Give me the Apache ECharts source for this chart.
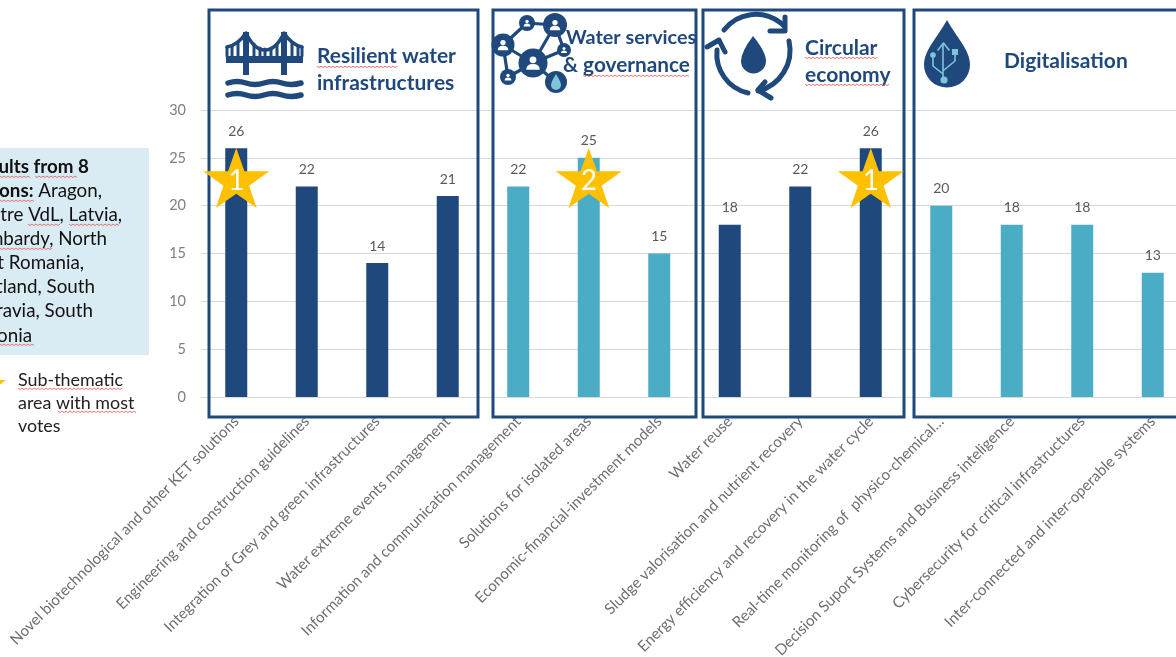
<!DOCTYPE html>
<html>
<head>
<meta charset="utf-8">
<style>
html, body { margin: 0; padding: 0; background: #fff; overflow: hidden; }
#main { width: 1176px; height: 657px; }
</style>
<script src="https://cdn.jsdelivr.net/npm/echarts@6/dist/echarts.min.js"></script>
</head>
<body>
<div id="main"></div>
<script>
const categories = [
  'Novel biotechnological and other KET solutions',
  'Engineering and construction guidelines',
  'Integration of Grey and green infrastructures',
  'Water extreme events management',
  'Information and communication management',
  'Solutions for isolated areas',
  'Economic-financial-investment models',
  'Water reuse',
  'Sludge valorisation and nutrient recovery',
  'Energy efficiency and recovery in the water cycle',
  'Real-time monitoring of  physico-chemical…',
  'Decision Suport Systems and Business inteligence',
  'Cybersecurity for critical infrastructures',
  'Inter-connected and inter-operable systems'
]
const votes = [26, 22, 14, 21, 22, 25, 15, 18, 22, 26, 20, 18, 18, 13]
const barColors = ['#1F497D', '#1F497D', '#1F497D', '#1F497D', '#4BACC6', '#4BACC6', '#4BACC6',
  '#1F497D', '#1F497D', '#1F497D', '#4BACC6', '#4BACC6', '#4BACC6', '#4BACC6']
const yTicks = { min: 0, max: 30, interval: 5 }
// stars sit on the top voted bar of each area: [category index, height, rank]
const starPoints = [[0, 22.9, 1], [5, 22.9, 2], [9, 22.9, 1]]

const NAVY = '#1F497D'
const LIGHT = '#7FC4DA'
const FONT = 'Lato, Carlito, sans-serif'
const STAR = 'path://M50 0 L61.8 35.1 L97.6 35.1 L68.5 57 L79.4 90.5 L50 69 L20.6 90.5 L31.5 57 L2.4 35.1 L38.2 35.1 Z'

const elements = []

// graphic component has no plain path type, so each icon path is registered as a shape
let shapeCount = 0
function pathEl (d, style, z) {
  const name = 'iconPath' + (shapeCount++)
  echarts.graphic.registerShape(name, echarts.graphic.extendPath(d, {}))
  elements.push({ type: name, z: z || 4, style: style })
}

function frame (x, w) {
  elements.push({ type: 'rect', z: 1, shape: { x: x, y: 10, width: w, height: 407 },
    style: { fill: 'none', stroke: NAVY, lineWidth: 3 } })
}
function text (x, y, str, size, color, extra) {
  elements.push({ type: 'text', z: 6, x: x, y: y,
    style: Object.assign({ text: str, font: size + 'px ' + FONT, fill: color, textVerticalAlign: 'middle' }, extra || {}) })
}
// red spell-check wave from the screenshot
function squiggle (x1, x2, y) {
  const pts = []
  let up = true
  for (let x = x1; x <= x2; x += 2) {
    pts.push([x, up ? y : y + 1.6])
    up = !up
  }
  elements.push({ type: 'polyline', z: 7, shape: { points: pts }, style: { fill: 'none', stroke: '#E8504F', lineWidth: 0.8 } })
}
function solid (d, color, z) {
  pathEl(d, { fill: color || NAVY }, z)
}
function stroke (d, w, color, z) {
  pathEl(d, { fill: 'none', stroke: color || NAVY, lineWidth: w, lineCap: 'round', lineJoin: 'round' }, z)
}
function disc (cx, cy, r, color, z) {
  elements.push({ type: 'circle', z: z || 4, shape: { cx: cx, cy: cy, r: r }, style: { fill: color || NAVY } })
}
function person (cx, cy, s) {
  disc(cx, cy - s * 0.35, s * 0.38, '#fff', 5)
  solid('M' + (cx - s * 0.75) + ' ' + (cy + s * 0.75) + ' Q' + (cx - s * 0.75) + ' ' + (cy + s * 0.1) + ' ' + cx + ' ' + (cy + s * 0.1) +
    ' Q' + (cx + s * 0.75) + ' ' + (cy + s * 0.1) + ' ' + (cx + s * 0.75) + ' ' + (cy + s * 0.75) + ' Z', '#fff', 5)
}

// frames
frame(209, 269)
frame(493, 203)
frame(703, 201)
frame(914, 270)

// legend box, cropped by the left edge in the original
elements.push({ type: 'rect', z: 1, shape: { x: 0, y: 148, width: 149, height: 207 }, style: { fill: '#DAECF3' } })
const note = { font: '18.8px ' + FONT, fill: '#111', textAlign: 'right', textVerticalAlign: 'middle' }
const noteLines = [
  [89, 167, 'Results from 8', true],
  [122, 215, 'Centre VdL, Latvia,'],
  [107, 239, 'Lombardy, North'],
  [84, 263, 'West Romania,'],
  [95, 287, 'Scotland, South'],
  [93, 311, 'Moravia, South'],
  [32, 336, 'Estonia']
]
noteLines.forEach(function (l) {
  text(l[0], l[1], l[2], 18.8, '#111', Object.assign({}, note, l[3] ? { font: 'bold 18.8px ' + FONT } : {}))
})
elements.push({ type: 'text', z: 6, x: 102, y: 191, style: Object.assign({}, note, {
  text: '{b|regions:} Aragon,', rich: { b: { font: 'bold 18.8px ' + FONT, fill: '#111' } } }) })
squiggle(0, 31, 176); squiggle(35, 78, 176); squiggle(0, 35, 200)
squiggle(28, 60, 224); squiggle(69, 120, 224); squiggle(0, 52, 248)
squiggle(0, 35, 344)

solid('M-10 369 L-6 380 L6 380 L-3.5 387 L0 398 L-10 391 L-20 398 L-16.5 387 L-26 380 L-14 380 Z', '#FFC000')
text(18, 380, 'Sub-thematic', 17.9, '#222')
text(18, 403, 'area with most', 17.9, '#222')
text(18, 426, 'votes', 17.9, '#222')
squiggle(18, 123, 388); squiggle(58, 136, 411)

// group titles
text(317, 56, 'Resilient water', 21, NAVY, { font: 'bold 21px ' + FONT })
text(317, 83, 'infrastructures', 21, NAVY, { font: 'bold 21px ' + FONT })
text(566, 38, 'Water services', 19.8, NAVY, { font: 'bold 19.8px ' + FONT })
text(563, 65, '& governance', 20.8, NAVY, { font: 'bold 20.8px ' + FONT })
text(805, 48, 'Circular', 21, NAVY, { font: 'bold 21px ' + FONT })
text(805, 75, 'economy', 21, NAVY, { font: 'bold 21px ' + FONT })
text(1004, 61, 'Digitalisation', 21, NAVY, { font: 'bold 21px ' + FONT })
squiggle(317, 397, 66); squiggle(583, 690, 75); squiggle(805, 877, 57); squiggle(805, 890, 84)

// bridge icon
solid('M226 56 H303 V63 H226 Z')
solid('M243 32 H249 V75 H243 Z M281 32 H287 V75 H281 Z')
stroke('M227 47 Q238 45 246 33 Q254 50 265 50 Q276 50 284 33 Q292 45 302 47', 3.5)
stroke('M232 46 V56 M238 42 V56 M254 44 V56 M260 48 V56 M265 49 V56 M271 48 V56 M277 44 V56 M292 42 V56 M298 46 V56 M227 47 V56 M302 47 V56', 3)
stroke('M228 83 Q237 80 246 83 T264 83 T282 83 T301 83', 5.5)
stroke('M228 95 Q237 92 246 95 T264 95 T282 95 T301 95', 5.5)

// network icon
stroke('M503 45 L527 23 L555 25 L533 63 L503 45 M503 45 L508 77 L533 63 L556 82 M555 25 L564 50 L533 63', 3.2)
disc(527, 23, 8); disc(555, 25, 12); disc(503, 45, 11.5); disc(533, 63, 14.5)
disc(508, 77, 8); disc(564, 50, 7); disc(556, 82, 11)
person(527, 23, 4.5); person(555, 25, 7); person(503, 45, 7); person(533, 63, 9)
person(508, 77, 4.5); person(564, 50, 4)
solid('M556 74 Q551 82 551 85 A5 5 0 0 0 561 85 Q561 82 556 74 Z', LIGHT, 5)

// recycling icon
stroke('M724 30 A40 40 0 0 1 784 26', 5)
stroke('M770 31 H785 V17', 5)
stroke('M789 41 A42 42 0 0 1 758 91', 5)
stroke('M765 82 L758 90 L771 98', 5)
stroke('M748 93 A40 40 0 0 1 717 50', 5)
stroke('M707 47 L719 40 L725 52', 5)
solid('M753 36 Q741 52 741 61 A12.5 12.5 0 0 0 766 61 Q766 52 753 36 Z')

// usb drop icon
solid('M947 20 C937 38 924 50 924 65 A23 22.5 0 0 0 970 65 C970 50 957 38 947 20 Z')
stroke('M943 81 V44 M938 50 L943.5 43 L949 50 M943 74 L933 66 V57 M944 70 L955 61 V54', 1.6, LIGHT, 5)
disc(944, 80, 3.6, LIGHT, 5)
disc(933, 55, 2.8, LIGHT, 5)
solid('M952 49 H958 V55 H952 Z', LIGHT, 5)

const chart = echarts.init(document.getElementById('main'))
chart.setOption({
  animation: false,
  backgroundColor: '#fff',
  textStyle: { fontFamily: FONT },
  grid: { left: 201, top: 110, right: -12, height: 287, containLabel: false, outerBoundsMode: 'none' },
  xAxis: {
    type: 'category',
    data: categories,
    axisTick: { show: false },
    axisLine: { lineStyle: { color: '#d9d9d9' } },
    axisLabel: { rotate: 45, interval: 0, margin: 22, fontSize: 15.2, color: '#6e6e6e', fontFamily: FONT }
  },
  yAxis: {
    type: 'value',
    min: yTicks.min,
    max: yTicks.max,
    interval: yTicks.interval,
    axisLine: { show: false },
    axisTick: { show: false },
    axisLabel: { margin: 15, fontSize: 14.5, color: '#7f7f7f', fontFamily: FONT },
    splitLine: { lineStyle: { color: '#d9d9d9' } }
  },
  series: [
    {
      type: 'bar',
      barWidth: 22,
      z: 2,
      data: votes.map(function (v, i) { return { value: v, itemStyle: { color: barColors[i] } } }),
      label: { show: true, position: 'top', distance: 10, fontSize: 14, color: '#595959', fontFamily: FONT }
    },
    {
      type: 'scatter',
      z: 3,
      symbol: STAR,
      symbolSize: [66, 60],
      itemStyle: { color: '#FFC000', opacity: 1 },
      data: starPoints,
      label: {
        show: true,
        position: 'inside',
        offset: [0, 3],
        fontSize: 28,
        color: '#fff',
        fontFamily: FONT,
        formatter: function (p) { return p.value[2] }
      }
    }
  ],
  graphic: { elements: elements }
})
</script>
</body>
</html>
